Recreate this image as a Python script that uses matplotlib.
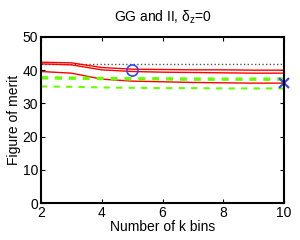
import matplotlib
matplotlib.use('Agg')
import matplotlib.pyplot as plt

plt.rcParams['font.family'] = ['Liberation Sans', 'DejaVu Sans']
plt.rcParams['mathtext.fontset'] = 'custom'
plt.rcParams['mathtext.rm'] = 'Liberation Sans'
plt.rcParams['mathtext.it'] = 'Liberation Sans'

# number of k bins
k_bins = [2, 3, 4, 5, 6, 7, 8, 9, 10]

# figure of merit curves
red_top = [42.4, 42.2, 40.8, 40.3, 40.2, 40.1, 40.1, 40.0, 40.0]
red_mid = [41.9, 41.6, 40.1, 39.6, 39.4, 39.3, 39.2, 39.1, 39.1]
red_low = [39.6, 39.1, 37.3, 36.7, 36.5, 36.3, 36.2, 36.1, 36.1]
green_thick = [37.7, 37.6, 37.5, 37.4, 37.4, 37.3, 37.3, 37.3, 37.3]
green_thin = [35.1, 35.0, 34.8, 34.7, 34.6, 34.6, 34.5, 34.5, 34.5]
ref_level = 41.8

circle_pt = (5, 40.2)
cross_pt = (10, 36.2)

fig = plt.figure(figsize=(3, 2.4), dpi=100)
ax = fig.add_axes([0.137, 0.154, 0.81, 0.692])

ax.plot([k_bins[0], k_bins[-1]], [ref_level, ref_level], color='#555555', ls=':', lw=1.0)
ax.plot(k_bins, red_top, color='red', lw=1)
ax.plot(k_bins, red_mid, color='red', lw=1)
ax.plot(k_bins, red_low, color='red', lw=1)
ax.plot(k_bins, green_thick, color='#66ff00', ls='--', lw=2.5, dashes=(2, 2))
ax.plot(k_bins, green_thin, color='#66ff00', ls='--', lw=1.5, dashes=(3, 3))
ax.plot(*circle_pt, 'o', mfc='none', mec='#3344ff', ms=8, mew=1.2)
ax.plot(*cross_pt, 'x', color='#3344ff', ms=7, mew=1.5, clip_on=False)

ax.set_xlim(2, 10)
ax.set_ylim(0, 50)
ax.set_xticks([2, 4, 6, 8, 10])
ax.set_yticks([0, 10, 20, 30, 40, 50])
ax.tick_params(direction='in', top=True, right=True, labelsize=10, length=3, pad=2)
for s in ax.spines.values():
    s.set_linewidth(1.5)

ax.set_xlabel('Number of k bins', fontsize=10, labelpad=0)
ax.set_ylabel('Figure of merit', fontsize=10, labelpad=1)
ax.set_title(r'GG and II, $\delta_z$=0', fontsize=10, pad=11)

fig.savefig('out.png', dpi=100)
